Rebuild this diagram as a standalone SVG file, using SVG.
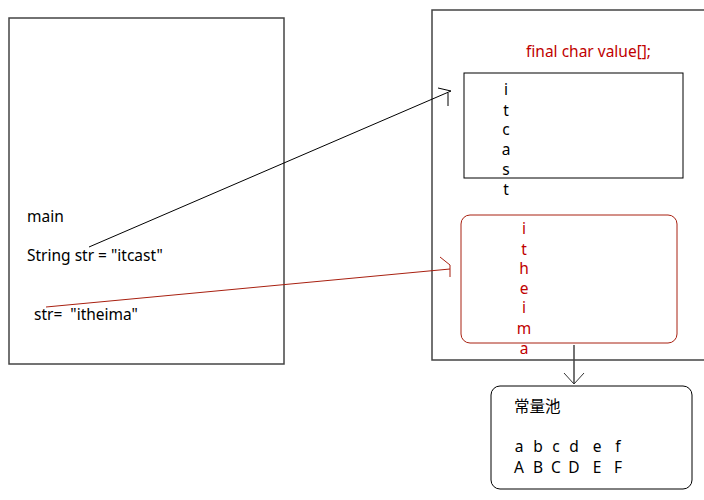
<svg xmlns="http://www.w3.org/2000/svg" width="704" height="500" viewBox="0 0 704 500">
<style>
text{font-family:"Noto Sans","Liberation Sans","Noto Sans CJK SC",sans-serif;font-size:15.5px;fill:#000}
.red{fill:#c00000}
.frame{fill:none;stroke:#444;stroke-width:1.5}
.blk{fill:none;stroke:#000;stroke-width:1}
.rl{fill:none;stroke:#a82010;stroke-width:1}
</style>
<rect width="704" height="500" fill="#fff"/>
<g id="stack">
<rect class="frame" x="9" y="18" width="275" height="346"/>
<text x="27" y="222">main</text>
<text x="27" y="261" xml:space="preserve">String str = "itcast"</text>
<text x="34" y="320" xml:space="preserve">str=  "itheima"</text>
</g>
<g id="heap">
<path class="frame" d="M706,10 H432 V360 H706"/>
<text class="red" x="526" y="57">final char value[];</text>
</g>
<g id="itcast">
<rect class="blk" x="464" y="73" width="219" height="105"/>
<g text-anchor="middle">
<text x="506" y="95">i</text>
<text x="506" y="116">t</text>
<text x="506" y="135">c</text>
<text x="506" y="155">a</text>
<text x="506" y="175">s</text>
<text x="506" y="195">t</text>
</g>
</g>
<g id="itheima">
<rect class="rl" x="461" y="215" width="216" height="128" rx="9"/>
<g text-anchor="middle">
<text class="red" x="524" y="234">i</text>
<text class="red" x="524" y="255">t</text>
<text class="red" x="524" y="274">h</text>
<text class="red" x="524" y="294">e</text>
<text class="red" x="524" y="313">i</text>
<text class="red" x="524" y="334">m</text>
<text class="red" x="524" y="354">a</text>
</g>
</g>
<g id="pool">
<rect class="blk" x="491" y="386" width="201" height="103" rx="9" stroke="#333" stroke-width="1.3"/>
<text x="514" y="412">常量池</text>
<g text-anchor="middle">
<text x="519" y="452">a</text><text x="538" y="452">b</text><text x="556" y="452">c</text><text x="574" y="452">d</text><text x="597" y="452">e</text><text x="618" y="452">f</text>
<text x="519" y="473">A</text><text x="538" y="473">B</text><text x="556" y="473">C</text><text x="574" y="473">D</text><text x="597" y="473">E</text><text x="618" y="473">F</text>
</g>
</g>
<g id="connectors">
<path class="blk" d="M89,247 L451,91"/>
<path class="blk" d="M438,88 L451,91 M448,93 L448,106"/>
<path class="rl" d="M46,307 L450,269"/>
<path class="rl" d="M440,257 L450,265 L450,277"/>
<path d="M574,345 V384" fill="none" stroke="#444" stroke-width="1.5"/>
<path d="M564,373 L574,384 L584,373" fill="none" stroke="#333" stroke-width="1"/>
</g>
</svg>
